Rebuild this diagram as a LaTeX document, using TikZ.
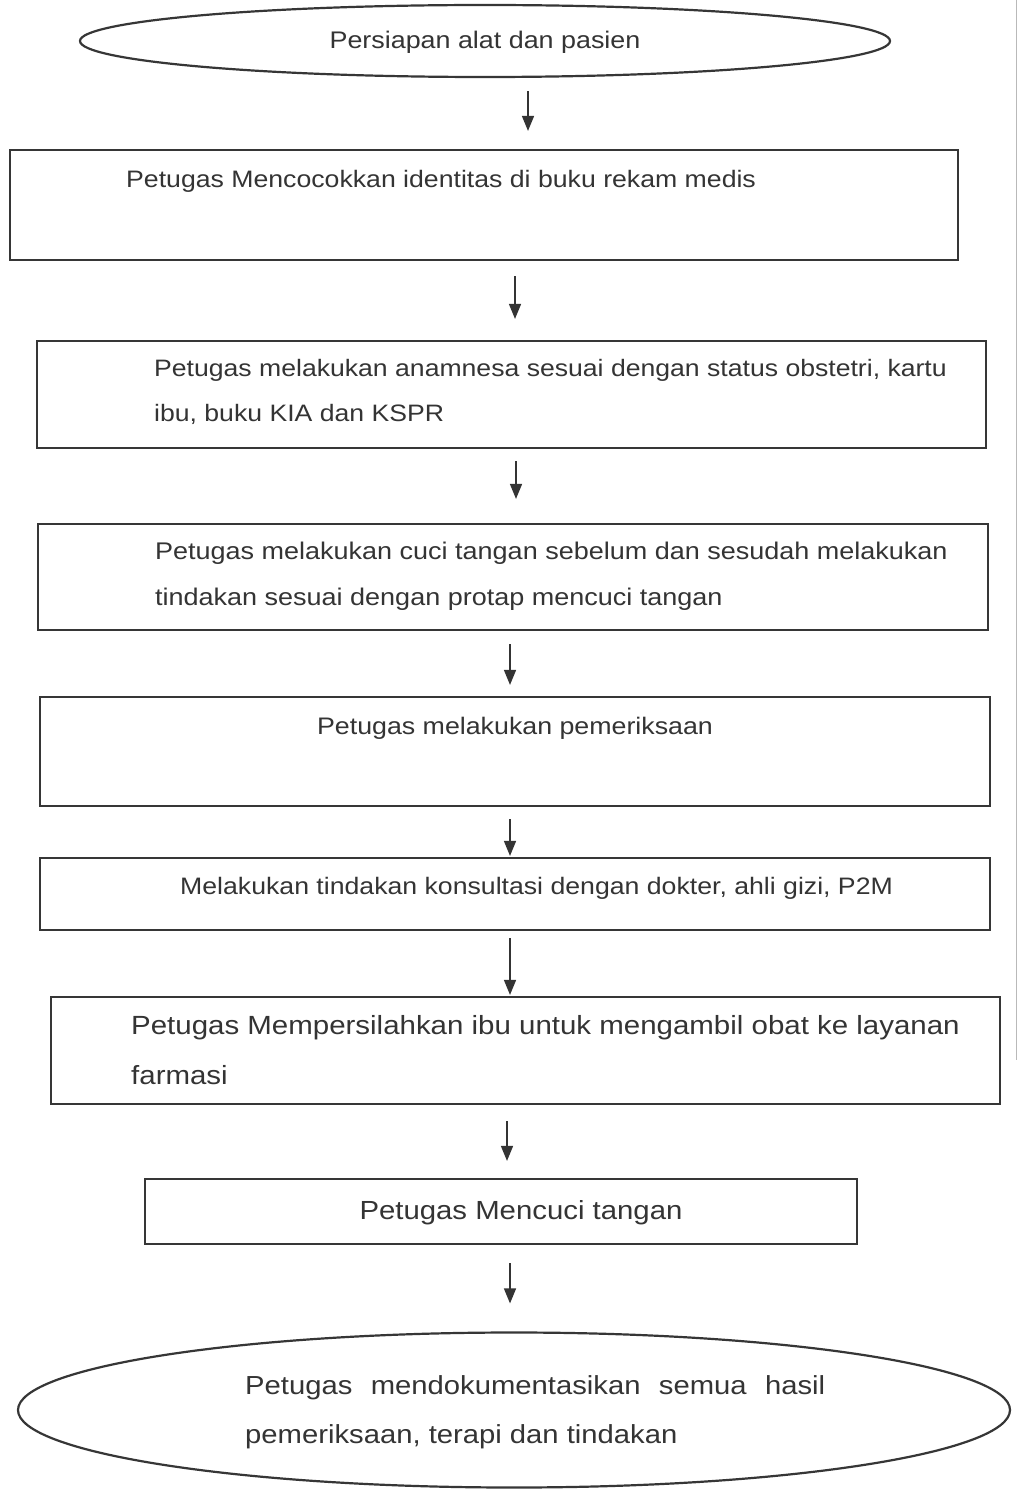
\documentclass[tikz,border=0pt]{standalone}
\usepackage{fontspec}
\setmainfont{Liberation Sans}[FakeStretch=1.12]
\usetikzlibrary{shapes.geometric,arrows.meta}
\definecolor{ink}{HTML}{343434}
\definecolor{edge}{HTML}{363636}
\begin{document}
\begin{tikzpicture}[x=1pt,y=-1pt,
  boxshape/.style={draw=edge,line width=2.2pt,rectangle,inner sep=0pt},
  ovalshape/.style={draw=edge,line width=2.2pt,ellipse,inner sep=0pt},
  txt/.style={text=ink,inner sep=0pt,align=left},
  arr/.style={draw=ink,line width=1.5pt,-{Triangle[length=15pt,width=12pt]}}]
\useasboundingbox (0,0) rectangle (1021,1490);
\fill[white] (0,0) rectangle (1021,1490);
\draw[gray!55,line width=1pt] (1016,0) -- (1016,1060);

% shapes
\node[ovalshape,minimum width=810pt,minimum height=72pt] (e1) at (485,41) {};
\node[boxshape,minimum width=948pt,minimum height=110pt] (b1) at (484,205) {};
\node[boxshape,minimum width=949pt,minimum height=107pt] (b2) at (511.5,394.5) {};
\node[boxshape,minimum width=950pt,minimum height=106pt] (b3) at (513,577) {};
\node[boxshape,minimum width=950pt,minimum height=109pt] (b4) at (515,751.5) {};
\node[boxshape,minimum width=950pt,minimum height=72pt] (b5) at (515,894) {};
\node[boxshape,minimum width=949pt,minimum height=107pt] (b6) at (525.5,1050.5) {};
\node[boxshape,minimum width=712pt,minimum height=65pt] (b7) at (501,1211.5) {};
\node[ovalshape,minimum width=992pt,minimum height=155pt] (e2) at (514,1410) {};

% texts
\node[txt,anchor=base,font=\fontsize{24}{45}\selectfont] (t0) at (485,49) {Persiapan alat dan pasien};
\node[txt,anchor=base west,font=\fontsize{23.8}{45}\selectfont] (t1) at (126,188) {Petugas Mencocokkan identitas di buku rekam medis};
\node[txt,anchor=north west,font=\fontsize{23.75}{45}\selectfont] (t2) at (154,359.5) {Petugas melakukan anamnesa sesuai dengan status obstetri, kartu\\ibu, buku KIA dan KSPR};
\node[txt,anchor=north west,font=\fontsize{24.1}{46}\selectfont] (t3) at (155,541.5) {Petugas melakukan cuci tangan sebelum dan sesudah melakukan\\tindakan sesuai dengan protap mencuci tangan};
\node[txt,anchor=base,font=\fontsize{23.9}{45}\selectfont] (t4) at (515,734) {Petugas melakukan pemeriksaan};
\node[txt,anchor=base west,font=\fontsize{23.8}{45}\selectfont] (t5) at (180,894) {Melakukan tindakan konsultasi dengan dokter, ahli gizi, P2M};
\node[txt,anchor=north west,font=\fontsize{26.3}{50}\selectfont] (t6) at (131,1015) {Petugas Mempersilahkan ibu untuk mengambil obat ke layanan\\farmasi};
\node[txt,anchor=base,font=\fontsize{26.2}{45}\selectfont] (t7) at (521,1219) {Petugas Mencuci tangan};
\node[txt,anchor=north west,font=\fontsize{26.1}{49}\selectfont] (t8) at (245,1375) {\makebox[580pt][s]{Petugas mendokumentasikan semua hasil}\\pemeriksaan, terapi dan tindakan};

% connectors
\draw[arr,shorten <=13pt,shorten >=18pt] ([xshift=43pt]e1.south) -- ([xshift=44pt]b1.north);
\draw[arr,shorten <=15pt,shorten >=21pt] ([xshift=31pt]b1.south) -- ([xshift=3.5pt]b2.north);
\draw[arr,shorten <=12pt,shorten >=24pt] ([xshift=4.5pt]b2.south) -- ([xshift=3pt]b3.north);
\draw[arr,shorten <=13pt,shorten >=11pt] ([xshift=-3pt]b3.south) -- ([xshift=-5pt]b4.north);
\draw[arr,shorten <=12pt,shorten >=1pt] ([xshift=-5pt]b4.south) -- ([xshift=-5pt]b5.north);
\draw[arr,shorten <=7pt,shorten >=1pt] ([xshift=-5pt]b5.south) -- ([xshift=-15.5pt]b6.north);
\draw[arr,shorten <=16pt,shorten >=17pt] ([xshift=-18.5pt]b6.south) -- ([xshift=6pt]b7.north);
\draw[arr,shorten <=18pt,shorten >=28pt] ([xshift=9pt]b7.south) -- ([xshift=-4pt]e2.north);
\end{tikzpicture}
\end{document}
